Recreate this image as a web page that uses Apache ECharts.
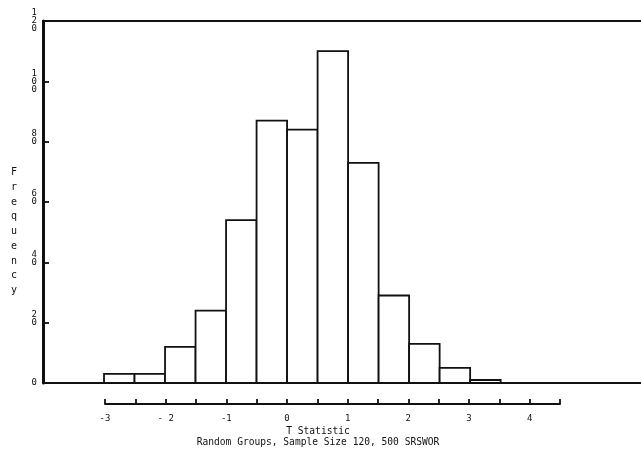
<!DOCTYPE html>
<html>
<head>
<meta charset="utf-8">
<script src="https://cdn.jsdelivr.net/npm/echarts@6/dist/echarts.min.js"></script>
<style>
  html, body { margin: 0; padding: 0; background: #fff; }
  #chart { width: 641px; height: 474px; }
</style>
</head>
<body>
<div id="chart"></div>
<script>
// histogram bins (left edge), width 0.5
const binStart = [-3, -2.5, -2, -1.5, -1, -0.5, 0, 0.5, 1, 1.5, 2, 2.5, 3];
const binWidth = 0.5;
const freq = [3, 3, 12, 24, 54, 87, 84, 110, 73, 29, 13, 5, 1];
const yTicks = [0, 20, 40, 60, 80, 100, 120];
const xTickValues = [-3, -2, -1, 0, 1, 2, 3, 4];
const xTickLabels = ['-3', '- 2', '-1', '0', '1', '2', '3', '4'];

const mono = 'DejaVu Sans Mono';
const ink = '#111';

const chart = echarts.init(document.getElementById('chart'));

const barData = binStart.map((s, i) => [s, s + binWidth, freq[i]]);

const option = {
    animation: false,
    title: {
        text: 'T Statistic',
        subtext: 'Random Groups, Sample Size 120, 500 SRSWOR',
        left: 318,
        top: 426,
        textAlign: 'center',
        itemGap: 1,
        padding: 0,
        textStyle: { fontFamily: mono, fontSize: 9.6, fontWeight: 'normal', color: ink },
        subtextStyle: { fontFamily: mono, fontSize: 9.6, color: ink }
    },
    grid: [
        { left: 43, top: 21, right: 0, bottom: 91 },
        { left: 105, right: 81, top: 403, height: 1 }
    ],
    xAxis: [
        {
            gridIndex: 0, type: 'value', min: -4, max: 5.8, position: 'bottom',
            axisLine: { show: true, onZero: false, lineStyle: { color: ink, width: 1.8 } },
            axisTick: { show: false }, axisLabel: { show: false }, splitLine: { show: false }
        },
        {
            gridIndex: 0, type: 'value', min: -4, max: 5.8, position: 'top',
            axisLine: { show: true, onZero: false, lineStyle: { color: ink, width: 1.8 } },
            axisTick: { show: false }, axisLabel: { show: false }, splitLine: { show: false }
        },
        {
            gridIndex: 1, type: 'value', min: -3, max: 4.5, interval: 0.5, position: 'bottom',
            axisLine: { show: true, onZero: false, lineStyle: { color: ink, width: 1.8 } },
            axisTick: { show: true, inside: true, length: 5, lineStyle: { color: ink, width: 1.8 } },
            axisLabel: {
                margin: 10, fontFamily: mono, fontSize: 9, color: ink,
                showMinLabel: true, showMaxLabel: true,
                formatter: v => {
                    const i = xTickValues.indexOf(v);
                    return i >= 0 ? xTickLabels[i] : '';
                }
            },
            splitLine: { show: false }
        }
    ],
    yAxis: [
        {
            gridIndex: 0, type: 'value', min: 0, max: 120, interval: 20,
            name: '\n\n\n\nF\nr\ne\nq\nu\ne\nn\nc\ny',
            nameLocation: 'middle', nameRotate: 0, nameGap: 26,
            nameTextStyle: { fontFamily: mono, fontSize: 10, lineHeight: 14.75, color: ink },
            axisLine: { show: true, onZero: false, lineStyle: { color: ink, width: 3 } },
            axisTick: { show: true, inside: true, length: 6, lineStyle: { color: ink, width: 1.8 } },
            axisLabel: {
                margin: 6, fontFamily: mono, fontSize: 9, lineHeight: 8, color: ink,
                formatter: v => {
                    if (yTicks.indexOf(v) < 0) return '';
                    const d = String(v).split('');
                    return d.join('\n') + (d.length === 2 ? '\n ' : '');
                }
            },
            splitLine: { show: false }
        },
        { gridIndex: 1, type: 'value', show: false }
    ],
    series: [
        {
            type: 'custom',
            xAxisIndex: 0,
            yAxisIndex: 0,
            data: barData,
            renderItem: (params, api) => {
                const p0 = api.coord([api.value(0), 0]);
                const p1 = api.coord([api.value(1), api.value(2)]);
                return {
                    type: 'rect',
                    shape: { x: p0[0], y: p1[1], width: p1[0] - p0[0], height: p0[1] - p1[1] },
                    style: { fill: '#fff', stroke: ink, lineWidth: 1.8 }
                };
            }
        }
    ]
};

chart.setOption(option);
</script>
</body>
</html>
